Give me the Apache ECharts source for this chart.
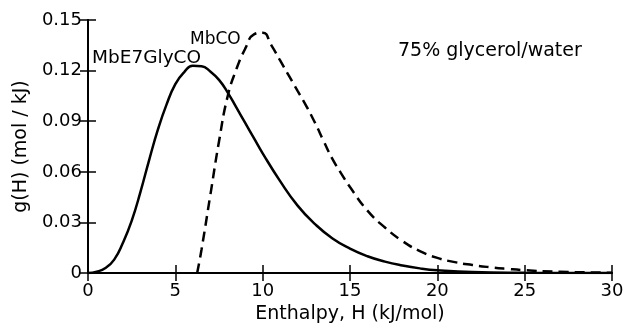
<!DOCTYPE html>
<html>
<head>
<meta charset="utf-8">
<script src="https://cdn.jsdelivr.net/npm/echarts@6/dist/echarts.min.js"></script>
<style>
  html, body { margin: 0; padding: 0; background: #fff; }
  #main { width: 627px; height: 329px; }
</style>
</head>
<body>
<div id="main"></div>
<script>
// enthalpy (kJ/mol) and g(H) for MbE7GlyCO (solid)
var glyH = [0, 0.5, 1, 1.5, 2, 2.5, 3, 3.5, 4, 4.5, 5, 5.5, 6, 6.5, 7, 7.5, 8, 8.5, 9, 9.5, 10, 11, 12, 13, 14, 15, 16, 17, 18, 19, 20, 22, 25, 30];
var glyG = [0, 0.0008, 0.003, 0.008, 0.018, 0.031, 0.048, 0.067, 0.085, 0.100, 0.112, 0.119, 0.1229, 0.1226, 0.1195, 0.1145, 0.107, 0.098, 0.089, 0.080, 0.071, 0.0545, 0.040, 0.029, 0.0205, 0.0145, 0.0100, 0.0068, 0.0045, 0.0028, 0.0017, 0.0006, 0.0002, 0];
// MbCO (dashed)
var mbH = [6.25, 6.5, 7, 7.5, 8, 8.5, 9, 9.5, 10, 10.5, 11, 11.5, 12, 12.5, 13, 13.5, 14, 14.5, 15, 16, 17, 18, 19, 20, 21, 22, 23, 24, 25, 27, 30];
var mbG = [0, 0.014, 0.046, 0.078, 0.105, 0.121, 0.133, 0.1415, 0.1425, 0.135, 0.126, 0.117, 0.108, 0.099, 0.089, 0.078, 0.0675, 0.059, 0.051, 0.037, 0.027, 0.019, 0.013, 0.009, 0.0065, 0.0048, 0.0035, 0.0025, 0.0017, 0.0008, 0.0002];

var xTicks = { min: 0, max: 30, interval: 5 };
var yTicks = { min: 0, max: 0.15, interval: 0.03 };

function pairs(xs, ys) {
  return xs.map(function(x, i) { return [x, ys[i]]; });
}

var chart = echarts.init(document.getElementById("main"));
var font = "DejaVu Sans";
var lineCol = "#000";

var option = {
  animation: false,
  backgroundColor: "#fff",
  grid: { left: 88, right: 15, top: 20, bottom: 47 },
  xAxis: [
    {
      type: "value", position: "bottom",
      min: xTicks.min, max: xTicks.max, interval: xTicks.interval,
      name: "Enthalpy, H (kJ/mol)", nameLocation: "middle", nameGap: 29,
      nameTextStyle: { fontFamily: font, fontSize: 19, color: "#000" },
      axisLine: { lineStyle: { color: lineCol, width: 2 } },
      axisTick: { inside: true, length: 8, lineStyle: { color: lineCol, width: 1.5 } },
      axisLabel: { margin: 9, fontFamily: font, fontSize: 18, color: "#000" },
      splitLine: { show: false }
    },
    {
      type: "value", position: "top",
      min: xTicks.min, max: xTicks.max, interval: xTicks.interval,
      axisLine: { lineStyle: { color: lineCol, width: 2 } },
      axisTick: { inside: true, length: 8, lineStyle: { color: lineCol, width: 1.5 } },
      axisLabel: { show: false },
      splitLine: { show: false }
    }
  ],
  yAxis: [
    {
      type: "value", position: "left",
      min: yTicks.min, max: yTicks.max, interval: yTicks.interval,
      name: "g(H) (mol / kJ)", nameLocation: "middle", nameGap: 49,
      nameTextStyle: { fontFamily: font, fontSize: 19, color: "#000" },
      axisLine: { show: true, lineStyle: { color: lineCol, width: 2 } },
      axisTick: { show: true, inside: true, length: 8, lineStyle: { color: lineCol, width: 1.5 } },
      axisLabel: { margin: 6, fontFamily: font, fontSize: 18, color: "#000" },
      splitLine: { show: false }
    },
    {
      type: "value", position: "right",
      min: yTicks.min, max: yTicks.max, interval: yTicks.interval,
      axisLine: { show: true, lineStyle: { color: lineCol, width: 2 } },
      axisTick: { show: true, inside: true, length: 8, lineStyle: { color: lineCol, width: 1.5 } },
      axisLabel: { show: false },
      splitLine: { show: false }
    }
  ],
  series: [
    {
      name: "MbE7GlyCO", type: "line", smooth: 0.5, showSymbol: false,
      data: pairs(glyH, glyG),
      lineStyle: { color: "#000", width: 2.5 }
    },
    {
      name: "MbCO", type: "line", smooth: 0.5, showSymbol: false,
      data: pairs(mbH, mbG),
      lineStyle: { color: "#000", width: 2.5, type: [10, 6] }
    }
  ],
  graphic: [
    { type: "text", left: 92, top: 49, style: { text: "MbE7GlyCO", font: "18.5px " + font, fill: "#000" } },
    { type: "text", left: 190, top: 31, style: { text: "MbCO", font: "17px " + font, fill: "#000" } },
    { type: "text", left: 398, top: 42, style: { text: "75% glycerol/water", font: "19px " + font, fill: "#000" } }
  ]
};

chart.setOption(option);
</script>
</body>
</html>
